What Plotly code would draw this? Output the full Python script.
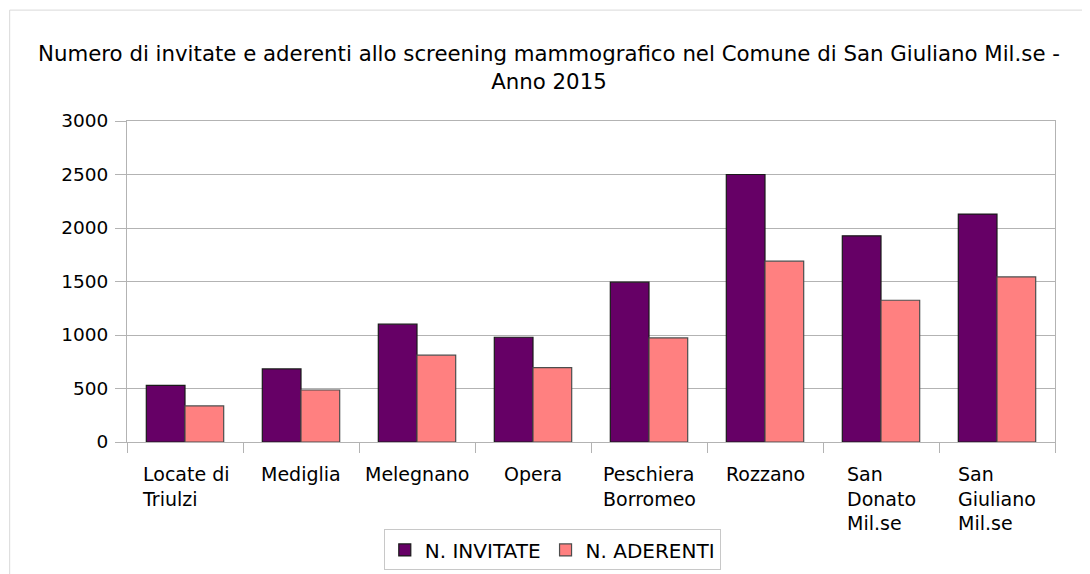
import plotly.graph_objects as go

categories = ["Locate di Triulzi", "Mediglia", "Melegnano", "Opera",
              "Peschiera Borromeo", "Rozzano", "San Donato Mil.se", "San Giuliano Mil.se"]
category_labels = ["Locate di<br>Triulzi", "Mediglia", "Melegnano", "Opera",
                   "Peschiera<br>Borromeo", "Rozzano", "San<br>Donato<br>Mil.se",
                   "San<br>Giuliano<br>Mil.se"]
invitate = [530, 683, 1101, 979, 1494, 2500, 1927, 2130]
aderenti = [337, 486, 811, 695, 973, 1690, 1325, 1543]
y_ticks = [0, 500, 1000, 1500, 2000, 2500, 3000]

title_text = ("Numero di invitate e aderenti allo screening mammografico nel Comune di San Giuliano Mil.se -"
              "<br>Anno 2015")

FONT = "DejaVu Sans"
# page body has an 8px margin: figure pixel = screen pixel - 8
W, H = 1082, 566
L, R, T, B = 119.3, 35, 113.3, 132
pw, ph = W - L - R, H - T - B

fig = go.Figure()
fig.add_trace(go.Bar(name="N. INVITATE", x=categories, y=invitate,
                     marker=dict(color="#660066", line=dict(color="#1a1a1a", width=1.2))))
fig.add_trace(go.Bar(name="N. ADERENTI", x=categories, y=aderenti,
                     marker=dict(color="#ff8080", line=dict(color="#4d4d4d", width=1.2))))

for c, lab in zip(categories, category_labels):
    fig.add_annotation(x=c, xref="x", y=-(18.5 / ph), yref="paper", text=lab,
                       showarrow=False, xanchor="center", yanchor="top", align="left",
                       font=dict(family=FONT, size=19, color="#000000"))

# outer frame (light grey)
fig.add_shape(type="rect", xref="paper", yref="paper",
              x0=(2 - L) / pw, x1=(W + 20 - L) / pw,
              y0=-(H + 20 - T - ph) / ph, y1=(T + ph - 2.5) / ph,
              line=dict(color="#d9d9d9", width=1), fillcolor="rgba(0,0,0,0)", layer="below")

fig.update_layout(
    width=W, height=H,
    margin=dict(l=L, r=R, t=T, b=B, autoexpand=False),
    paper_bgcolor="white", plot_bgcolor="white",
    font=dict(family=FONT, size=19, color="#000000"),
    title=dict(text=title_text, x=541 / W, xanchor="center", xref="container",
               y=1 - 53 / H, yanchor="top", yref="container",
               font=dict(family=FONT, size=21.3, color="#000000")),
    barmode="group", bargap=0.333, bargroupgap=0,
    showlegend=True,
    legend=dict(orientation="h", x=(376 - L) / pw, xanchor="left",
                y=-(521.3 - T - ph) / ph, yanchor="top",
                bordercolor="#c8c8c8", borderwidth=1, bgcolor="white",
                font=dict(family=FONT, size=20, color="#000000"),
                itemwidth=30, tracegroupgap=0),
    xaxis=dict(type="category", showticklabels=False, ticks="outside", tickson="boundaries",
               ticklen=10, tickcolor="#b3b3b3", showgrid=False, showline=True, mirror=True,
               linecolor="#b3b3b3", linewidth=1, zeroline=False, fixedrange=True),
    yaxis=dict(range=[0, 3000], tickvals=y_ticks, ticks="outside", ticklen=11,
               tickcolor="#b3b3b3", showgrid=True, gridcolor="#b3b3b3", gridwidth=1,
               showline=True, mirror=True, linecolor="#b3b3b3", linewidth=1,
               zeroline=False, ticklabelstandoff=3, fixedrange=True,
               tickfont=dict(family=FONT, size=18.5, color="#000000")),
)

fig.write_html("out.html")
